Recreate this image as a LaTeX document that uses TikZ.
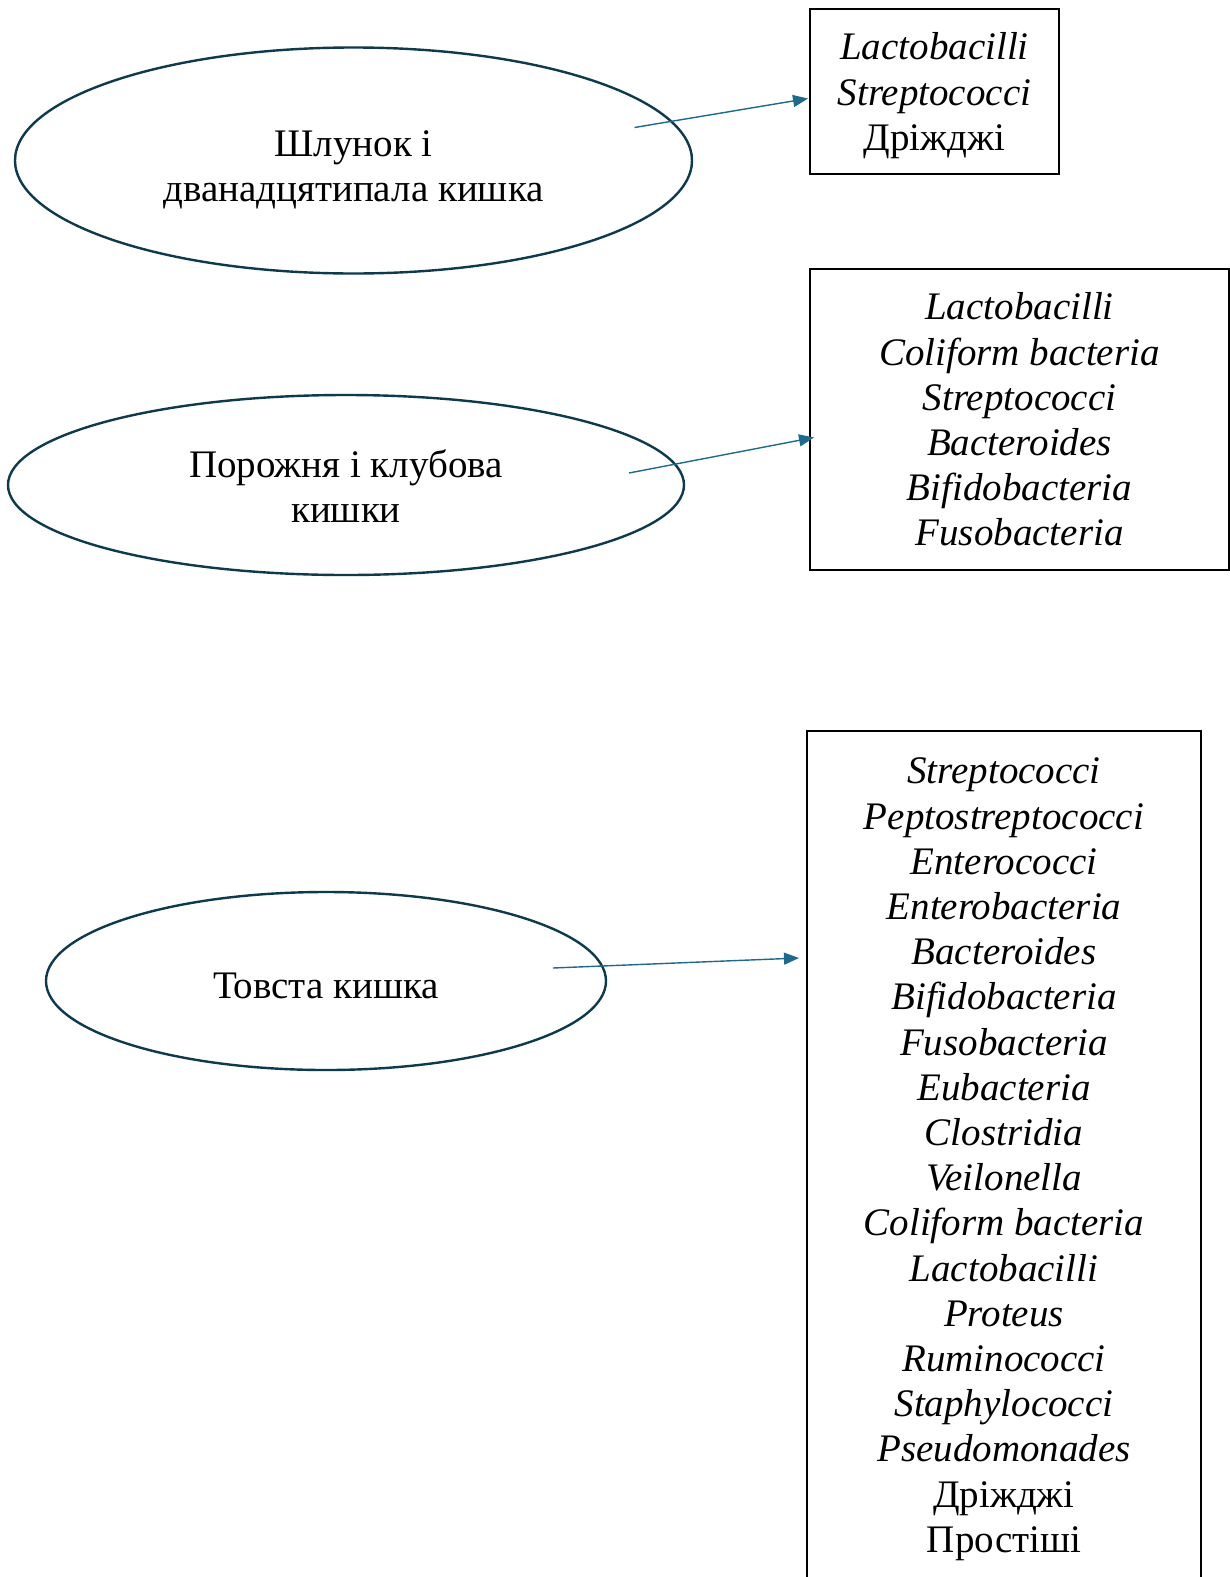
\documentclass[tikz,border=0pt]{standalone}
\usepackage{fontspec}
\setmainfont{Liberation Serif}
\usetikzlibrary{shapes.geometric,arrows.meta,calc}
\definecolor{outline}{HTML}{0E3A4E}
\definecolor{arrowblue}{HTML}{1F6A8C}
\begin{document}
\begin{tikzpicture}[x=1pt,y=-1pt,
  every node/.style={font=\fontsize{39pt}{45.2pt}\selectfont},
  organ/.style={ellipse,draw=outline,line width=2.4pt,inner sep=0pt},
  caption/.style={align=center,inner sep=0pt},
  listbox/.style={draw=black,line width=2pt,align=center,inner sep=0pt},
  arr/.style={draw=arrowblue,line width=1.4pt,-{Triangle[length=15pt,width=12pt]}}]
  \clip (0,0) rectangle (1230,1577);
  \fill[white] (0,0) rectangle (1230,1577);

  % regions of the gut
  \node[organ,minimum width=677pt,minimum height=226pt] (e1) at (353.5,160.5) {};
  \node[caption] (t1) at (353.5,170) {Шлунок і\\дванадцятипала кишка};

  \node[organ,minimum width=676pt,minimum height=180pt] (e2) at (346,485) {};
  \node[caption] (t2) at (346,486) {Порожня і клубова\\кишки};

  \node[organ,minimum width=560pt,minimum height=178pt] (e3) at (326,981) {};
  \node[caption] (t3) at (326,986) {Товста кишка};

  % microflora lists
  \node[listbox,minimum width=249pt,minimum height=165pt,text depth=0pt] (b1) at (934.5,91.5)
    {\textit{Lactobacilli}\\\textit{Streptococci}\\Дріжджі};

  \node[listbox,minimum width=419pt,minimum height=301pt] (b2) at (1019.5,419.5)
    {\textit{Lactobacilli}\\\textit{Coliform bacteria}\\\textit{Streptococci}\\
     \textit{Bacteroides}\\\textit{Bifidobacteria}\\\textit{Fusobacteria}};

  \node[listbox,minimum width=394pt,anchor=north,inner ysep=27pt,text depth=80pt] (b3) at (1004,730)
    {\textit{Streptococci}\\\textit{Peptostreptococci}\\\textit{Enterococci}\\
     \textit{Enterobacteria}\\\textit{Bacteroides}\\\textit{Bifidobacteria}\\
     \textit{Fusobacteria}\\\textit{Eubacteria}\\\textit{Clostridia}\\
     \textit{Veilonella}\\\textit{Coliform bacteria}\\\textit{Lactobacilli}\\
     \textit{Proteus}\\\textit{Ruminococci}\\\textit{Staphylococci}\\
     \textit{Pseudomonades}\\Дріжджі\\Простіші};

  % connectors
  \coordinate (s1) at ($(e1.center)+(281,-33)$);
  \coordinate (s2) at ($(e2.center)+(283,-12)$);
  \coordinate (s3) at ($(e3.center)+(227,-13)$);
  \draw[arr] (s1) -- ($(b1.west)+(-1,7)$);
  \draw[arr] (s2) -- ($(b2.west)+(5,18)$);
  \draw[arr] (s3) -- ($(b3.north west)+(-7,228)$);
\end{tikzpicture}
\end{document}
